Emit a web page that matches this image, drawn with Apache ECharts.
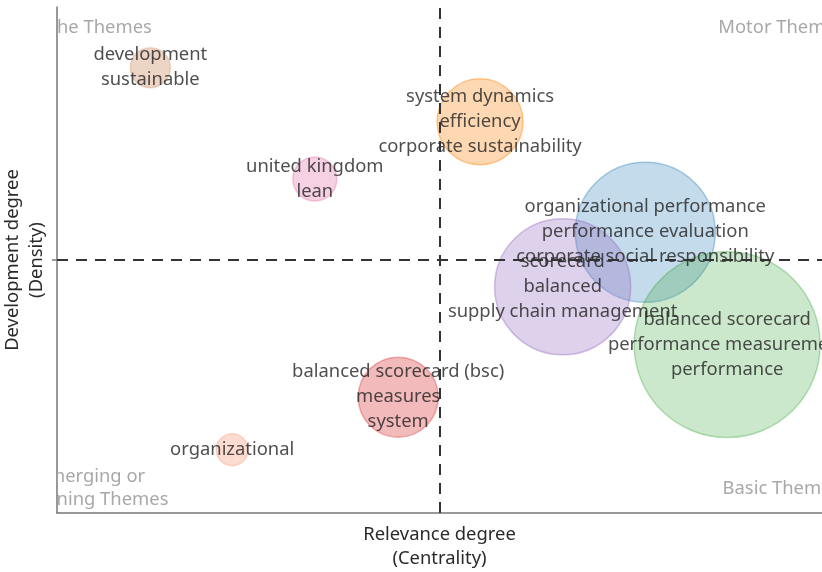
<!DOCTYPE html>
<html>
<head>
<meta charset="utf-8">
<script src="https://cdn.jsdelivr.net/npm/echarts@6/dist/echarts.min.js"></script>
<style>
html,body{margin:0;padding:0;background:#fff;}
#chart{width:822px;height:572px;}
</style>
</head>
<body>
<div id="chart"></div>
<script>
// Theme labels (keywords of each cluster)
const themeLabels = [
  "development\nsustainable",
  "united kingdom\nlean",
  "system dynamics\nefficiency\ncorporate sustainability",
  "organizational performance\nperformance evaluation\ncorporate social responsibility",
  "scorecard\nbalanced\nsupply chain management",
  "balanced scorecard\nperformance measurement\nperformance",
  "balanced scorecard (bsc)\nmeasures\nsystem",
  "organizational"
];
// Centrality (x) and density (y), normalised 0-100
const centrality = [12.2, 33.7, 55.3, 76.9, 66.1, 87.6, 44.6, 22.9];
const density    = [88.0, 66.0, 77.3, 55.5, 44.7, 33.3, 22.9, 12.5];
// Bubble weight (cluster size)
const clusterWeight = [40, 44, 86, 140, 136, 186, 80, 32];

// Quadrant annotations
const quadrantNames = ["Niche Themes", "Motor Themes", "Emerging or\nDeclining Themes", "Basic Themes"];
const quadrantX = [4.4, 94.7, 4.5, 94.7];
const quadrantY = [95.8, 95.8, 4.8, 4.7];

const fills = [
  'rgba(198,125,77,0.40)',
  'rgba(227,112,167,0.40)',
  'rgba(250,135,15,0.40)',
  'rgba(31,119,180,0.33)',
  'rgba(148,103,189,0.38)',
  'rgba(44,160,44,0.30)',
  'rgba(214,39,40,0.40)',
  'rgba(245,145,112,0.40)'
];
const strokes = [
  'rgba(198,125,77,0.35)',
  'rgba(227,112,167,0.45)',
  'rgba(250,135,15,0.55)',
  'rgba(31,119,180,0.45)',
  'rgba(148,103,189,0.5)',
  'rgba(44,160,44,0.4)',
  'rgba(214,39,40,0.45)',
  'rgba(245,145,112,0.4)'
];

const FONT = 'Noto Sans';
const FS = 18.4;

const bubbleData = themeLabels.map((t, i) => ({
  name: t,
  value: [centrality[i], density[i], clusterWeight[i]],
  itemStyle: { color: fills[i], borderColor: strokes[i], borderWidth: 1.5 }
}));

const quadData = quadrantNames.map((n, i) => [quadrantX[i], quadrantY[i]]);

const chart = echarts.init(document.getElementById('chart'));
chart.setOption({
  animation: false,
  backgroundColor: '#fff',
  grid: { left: 57, right: 0, top: 7, bottom: 59, containLabel: false, outerBoundsMode: 'none' },
  xAxis: {
    type: 'value', min: 0, max: 100, interval: 50,
    name: 'Relevance degree\n(Centrality)',
    nameLocation: 'middle', nameGap: 10,
    nameTextStyle: { color: '#2a2a2a', fontSize: FS, fontFamily: FONT, lineHeight: 24, verticalAlign: 'top' },
    axisLine: { show: true, onZero: false, lineStyle: { color: '#777', width: 1.5 } },
    axisTick: { show: false },
    axisLabel: { show: false },
    splitLine: { show: false }
  },
  yAxis: {
    type: 'value', min: 0, max: 100, interval: 50,
    name: 'Development degree\n(Density)',
    nameLocation: 'middle', nameGap: 8,
    nameTextStyle: { color: '#2a2a2a', fontSize: FS, fontFamily: FONT, lineHeight: 24 },
    axisLine: { show: true, onZero: false, lineStyle: { color: '#777', width: 1.5 } },
    axisTick: { show: true, length: 5, customValues: [50], lineStyle: { color: '#777', width: 1.5 } },
    axisLabel: { show: false },
    splitLine: { show: false }
  },
  series: [
    {
      type: 'scatter',
      z: 2,
      clip: true,
      data: bubbleData,
      symbolSize: v => v[2],
      label: {
        show: true,
        position: 'inside',
        formatter: p => p.name,
        color: '#222',
        fontSize: FS,
        fontFamily: FONT,
        lineHeight: 25,
        align: 'center'
      },
      emphasis: { disabled: true }
    },
    {
      type: 'custom',
      z: 5,
      clip: true,
      silent: true,
      data: quadData,
      renderItem: (params, api) => {
        const p = api.coord([api.value(0), api.value(1)]);
        return {
          type: 'text',
          x: p[0], y: p[1],
          style: {
            text: quadrantNames[params.dataIndex],
            fill: '#a8a8a8',
            fontSize: FS,
            fontFamily: FONT,
            lineHeight: 23,
            align: 'center',
            verticalAlign: 'middle'
          }
        };
      },
      markLine: {
        silent: true,
        symbol: 'none',
        label: { show: false },
        lineStyle: { color: '#333', width: 2, type: [11, 8] },
        data: [{ xAxis: 50 }, { yAxis: 50 }]
      }
    }
  ]
});
</script>
</body>
</html>
